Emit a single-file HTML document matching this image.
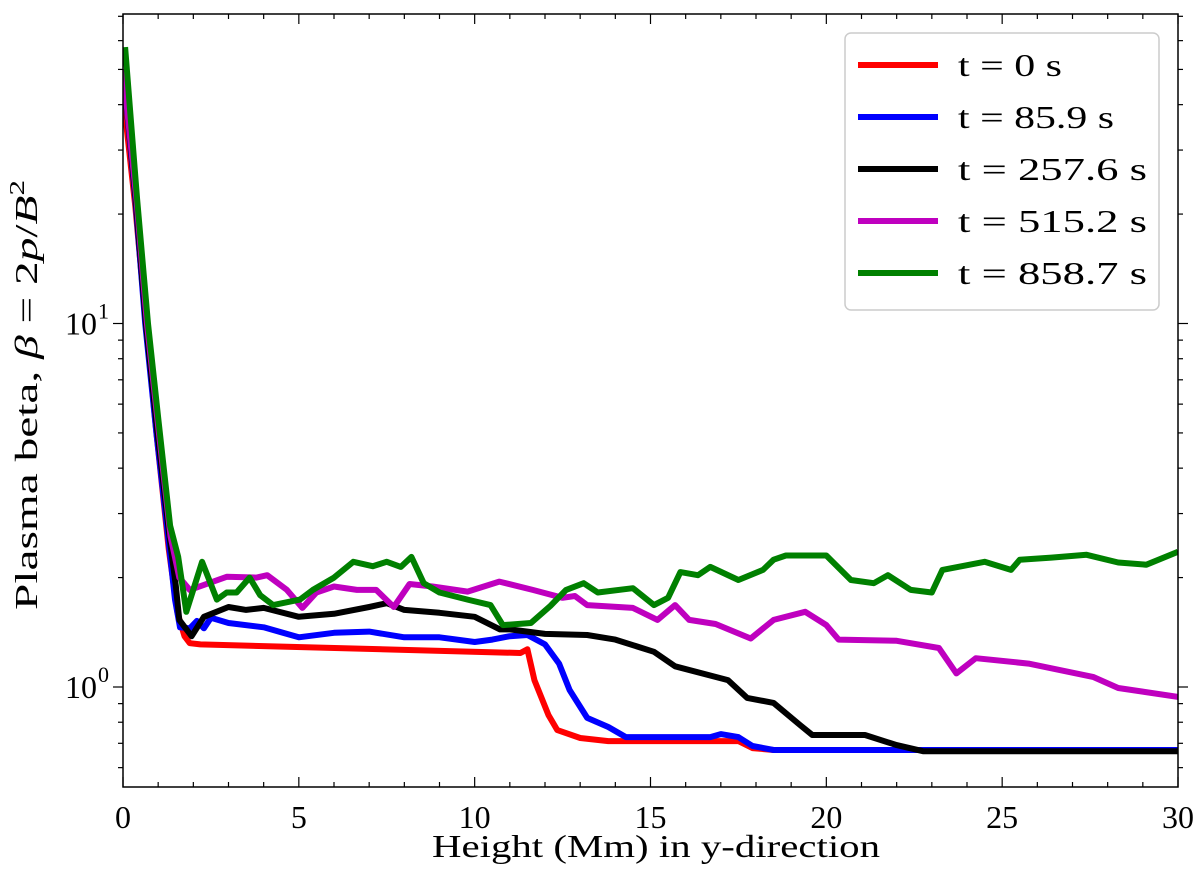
<!DOCTYPE html>
<html><head><meta charset="utf-8"><style>
body{margin:0;background:#fff}
svg text{font-family:"Liberation Serif",serif;fill:#000}
</style></head><body>
<svg id="chart" width="1200" height="886" viewBox="0 0 1200 886" xmlns="http://www.w3.org/2000/svg">
<g id="series"></g>
<g id="axes"></g>
<text x="432" y="857" font-size="32" textLength="448" lengthAdjust="spacingAndGlyphs">Height (Mm) in y-direction</text>
<text transform="translate(37,395) rotate(-90)" font-size="32" text-anchor="middle" textLength="430" lengthAdjust="spacingAndGlyphs">Plasma beta, <tspan font-style="italic">β</tspan> = 2<tspan font-style="italic">p</tspan>/<tspan font-style="italic">B</tspan><tspan font-size="21" dy="-13">2</tspan></text>
<g id="legend">
<rect x="845" y="33" width="314" height="277" rx="6" fill="#fff" stroke="#ccc" stroke-width="1.5"/>
</g>
</svg>
<script>
const xTicks=[0,5,10,15,20,25,30];
const yTickVals=[1,10];
const yTickExp=["0","1"];
const seriesNames=["t = 0 s","t = 85.9 s","t = 257.6 s","t = 515.2 s","t = 858.7 s"];
const legendLen=[104,156,189,189,189];
const redX=[0.03,0.35,0.65,0.95,1.3,1.55,1.75,1.9,2.2,11.3,11.5,11.7,12.1,12.35,13,13.8,17.5,17.9,18.5,30];
const redV=[40,21,10,5.0,2.4,1.6,1.38,1.32,1.31,1.24,1.27,1.045,.837,.761,.724,.710,.710,.679,.671,.671];
const blueX=[0,0.35,0.63,0.95,1.3,1.48,1.62,1.9,2.1,2.3,2.5,3,4,5,6,7,8,9,10,10.5,11,11.5,12,12.4,12.7,13.2,13.8,14.3,16.7,17,17.5,17.9,18.5,30];
const blueV=[50,22,10,5.0,2.5,1.74,1.46,1.45,1.52,1.45,1.55,1.50,1.46,1.37,1.41,1.42,1.37,1.37,1.33,1.35,1.38,1.39,1.31,1.16,.981,.822,.776,.728,.728,.742,.728,.688,.671,.671];
const blackX=[0,0.36,0.65,0.97,1.32,1.5,1.6,1.95,2.3,3,3.5,4,5,6,7,7.5,8,9,10,10.72,11,12,13.2,14,15.1,15.7,17.2,17.75,18.5,19.25,19.6,21.1,22,22.75,30];
const blackV=[50,22,10,5.1,2.6,1.9,1.53,1.38,1.56,1.66,1.63,1.65,1.56,1.59,1.66,1.70,1.63,1.60,1.56,1.44,1.44,1.40,1.39,1.35,1.25,1.14,1.045,.933,.904,.786,.738,.738,.692,.666,.666];
const magX=[0,0.38,0.68,1.0,1.35,1.6,1.9,2.95,3.8,4.1,4.66,5.1,5.5,6,6.65,7.2,7.7,8.15,8.8,9.8,10.7,11.65,12.5,12.85,13.2,14.5,15.2,15.7,16.1,16.85,17.85,18.5,19.4,20,20.35,22,23.2,23.7,24.25,25.75,27.6,28.3,30];
const magV=[50,22,10,5.2,2.6,2.0,1.85,2.01,2.00,2.03,1.85,1.65,1.82,1.89,1.85,1.85,1.66,1.92,1.89,1.83,1.95,1.85,1.76,1.78,1.68,1.65,1.53,1.68,1.53,1.49,1.36,1.53,1.61,1.48,1.35,1.34,1.28,1.09,1.20,1.16,1.065,.994,.939];
const greenX=[0.06,0.4,0.71,1.0,1.34,1.57,1.8,2.25,2.67,2.95,3.23,3.6,3.9,4.27,5.03,5.4,6,6.55,7.1,7.5,7.9,8.2,8.55,9,9.8,10.45,10.8,11.6,12.15,12.6,13.1,13.5,14.5,15.1,15.5,15.85,16.35,16.7,17.5,18.2,18.5,18.85,20,20.7,21.35,21.75,22.4,23,23.3,24.5,25.25,25.5,26.4,27.4,28.3,29.1,30];
const greenV=[57.6,22,10,5.5,2.78,2.28,1.61,2.21,1.74,1.82,1.82,2.00,1.79,1.68,1.74,1.85,2.00,2.21,2.15,2.21,2.14,2.28,1.93,1.82,1.74,1.68,1.48,1.50,1.67,1.85,1.93,1.82,1.87,1.68,1.76,2.07,2.03,2.14,1.97,2.10,2.24,2.30,2.30,1.97,1.93,2.03,1.85,1.82,2.10,2.21,2.10,2.24,2.27,2.31,2.20,2.17,2.355];

const L=123,R=1178,T=14,B=787;
const Y0=687,DEC=363.5;
function sx(x){return L+(x/30)*(R-L);}
function sy(v){return Y0-Math.log10(v)*DEC;}
const NS="http://www.w3.org/2000/svg";
function mk(tag,attrs,parent){const e=document.createElementNS(NS,tag);for(const k in attrs)e.setAttribute(k,attrs[k]);parent.appendChild(e);return e;}
const sg=document.getElementById('series');
const defs=[[redX,redV,'#ff0000','series-t0'],[blueX,blueV,'#0000ff','series-t85'],[blackX,blackV,'#000000','series-t257'],[magX,magV,'#bf00bf','series-t515'],[greenX,greenV,'#008000','series-t858']];
const clip=mk('clipPath',{id:'pc'},sg);mk('rect',{x:L,y:T,width:R-L,height:B-T},clip);
defs.forEach(d=>{
  const p=d[0].map((x,i)=>(i?'L':'M')+sx(x).toFixed(1)+' '+sy(d[1][i]).toFixed(1)).join(' ');
  const el=mk('path',{d:p,fill:'none',stroke:d[2],'stroke-width':6,'stroke-linejoin':'round','clip-path':'url(#pc)'},sg);
  
  
});
const ag=document.getElementById('axes');
const frame=mk('rect',{x:L,y:T,width:R-L,height:B-T,fill:'none',stroke:'#000','stroke-width':1.5},ag);


for(let i=0;i<=30;i++){
  const X=sx(i),len=(i%5===0)?10:5;
  mk('line',{x1:X,y1:B,x2:X,y2:B-len,stroke:'#000','stroke-width':1.2},ag);
  mk('line',{x1:X,y1:T,x2:X,y2:T+len,stroke:'#000','stroke-width':1.2},ag);
}
xTicks.forEach(v=>{
  const t=mk('text',{x:sx(v),y:828,'font-size':32,'text-anchor':'middle'},ag);
  t.textContent=String(v);
  
  
});
for(let dec=-1;dec<=1;dec++){
  for(let m=1;m<10;m++){
    const v=m*Math.pow(10,dec),Y=sy(v);
    if(Y<T||Y>B)continue;
    const len=(m===1)?10:5;
    mk('line',{x1:L,y1:Y,x2:L-len,y2:Y,stroke:'#000','stroke-width':1.2},ag);
    mk('line',{x1:R,y1:Y,x2:R+len,y2:Y,stroke:'#000','stroke-width':1.2},ag);
  }
}
yTickVals.forEach((v,i)=>{
  const t=mk('text',{x:97,y:sy(v)+11,'font-size':32,'text-anchor':'end'},ag);
  t.textContent='10';
  
  
  const s=mk('text',{x:98,y:sy(v)-5,'font-size':22},ag);
  s.textContent=yTickExp[i];
  
  
});
const lg=document.getElementById('legend');
defs.forEach((d,i)=>{
  const y=65+i*52;
  const ln=mk('line',{x1:858,y1:y,x2:938,y2:y,stroke:d[2],'stroke-width':6},lg);
  
  
  const t=mk('text',{x:958,y:y+11,'font-size':32,textLength:legendLen[i],lengthAdjust:'spacingAndGlyphs'},lg);
  t.textContent=seriesNames[i];
  
  
});
</script>
</body></html>
